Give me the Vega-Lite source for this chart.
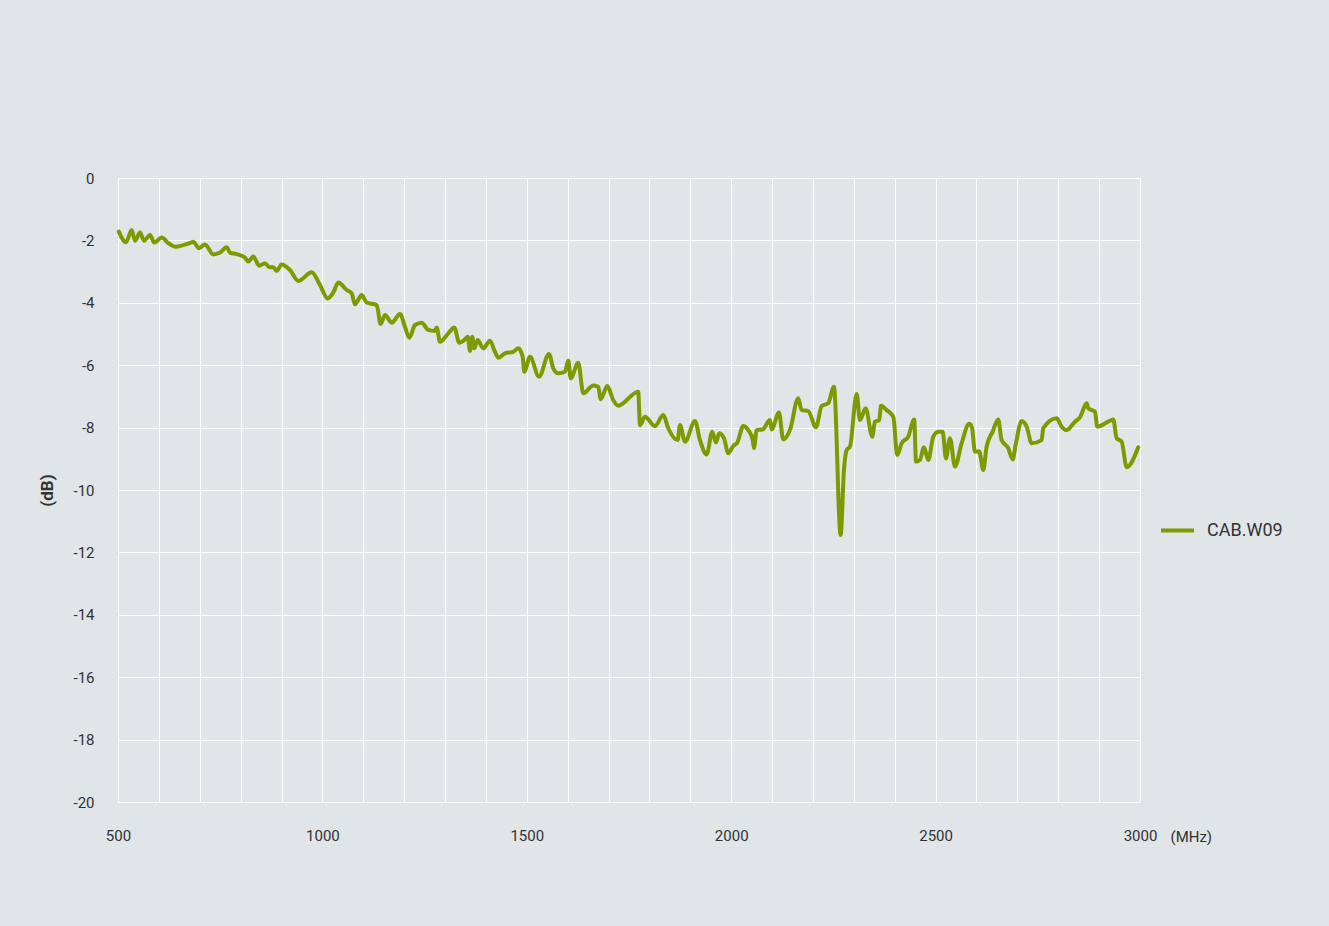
{
  "$schema": "https://vega.github.io/schema/vega-lite/v6.json",
  "autosize": "none",
  "width": 1022,
  "height": 624,
  "padding": {"left": 118, "top": 178, "right": 189, "bottom": 124},
  "background": "#e0e5e8",
  "config": {
    "view": {"stroke": null},
    "font": "Roboto",
    "axis": {"domain": false, "ticks": false, "grid": true, "gridColor": "#ffffff", "gridWidth": 1, "gridOpacity": 1, "labelColor": "#333333", "labelFontSize": 15, "labelFont": "Roboto", "titleColor": "#333333", "labelFlush": false, "labelOverlap": false}
  },
  "data": {
    "values": [
      {"f": 502, "db": -1.72, "series": "CAB.W09"},
      {"f": 519.6, "db": -2.06, "series": "CAB.W09"},
      {"f": 533.5, "db": -1.67, "series": "CAB.W09"},
      {"f": 541.6, "db": -2.01, "series": "CAB.W09"},
      {"f": 553.8, "db": -1.75, "series": "CAB.W09"},
      {"f": 563.6, "db": -2.01, "series": "CAB.W09"},
      {"f": 578.3, "db": -1.83, "series": "CAB.W09"},
      {"f": 588.8, "db": -2.07, "series": "CAB.W09"},
      {"f": 606.9, "db": -1.91, "series": "CAB.W09"},
      {"f": 623, "db": -2.09, "series": "CAB.W09"},
      {"f": 639.4, "db": -2.2, "series": "CAB.W09"},
      {"f": 680.3, "db": -2.06, "series": "CAB.W09"},
      {"f": 684.2, "db": -2.04, "series": "CAB.W09"},
      {"f": 698.1, "db": -2.25, "series": "CAB.W09"},
      {"f": 712.8, "db": -2.13, "series": "CAB.W09"},
      {"f": 733.1, "db": -2.45, "series": "CAB.W09"},
      {"f": 749.5, "db": -2.39, "series": "CAB.W09"},
      {"f": 765.9, "db": -2.22, "series": "CAB.W09"},
      {"f": 774, "db": -2.39, "series": "CAB.W09"},
      {"f": 790.3, "db": -2.44, "series": "CAB.W09"},
      {"f": 810.6, "db": -2.55, "series": "CAB.W09"},
      {"f": 818.7, "db": -2.68, "series": "CAB.W09"},
      {"f": 831, "db": -2.52, "series": "CAB.W09"},
      {"f": 845.6, "db": -2.81, "series": "CAB.W09"},
      {"f": 859.6, "db": -2.73, "series": "CAB.W09"},
      {"f": 870.1, "db": -2.86, "series": "CAB.W09"},
      {"f": 879.9, "db": -2.86, "series": "CAB.W09"},
      {"f": 888.2, "db": -2.98, "series": "CAB.W09"},
      {"f": 900.4, "db": -2.77, "series": "CAB.W09"},
      {"f": 920.7, "db": -2.95, "series": "CAB.W09"},
      {"f": 941, "db": -3.3, "series": "CAB.W09"},
      {"f": 973.8, "db": -3.02, "series": "CAB.W09"},
      {"f": 994.1, "db": -3.43, "series": "CAB.W09"},
      {"f": 1012.9, "db": -3.86, "series": "CAB.W09"},
      {"f": 1026.6, "db": -3.67, "series": "CAB.W09"},
      {"f": 1038.9, "db": -3.35, "series": "CAB.W09"},
      {"f": 1059.4, "db": -3.59, "series": "CAB.W09"},
      {"f": 1071.6, "db": -3.7, "series": "CAB.W09"},
      {"f": 1079.7, "db": -4.05, "series": "CAB.W09"},
      {"f": 1096.1, "db": -3.75, "series": "CAB.W09"},
      {"f": 1108.3, "db": -3.99, "series": "CAB.W09"},
      {"f": 1132.8, "db": -4.07, "series": "CAB.W09"},
      {"f": 1142.6, "db": -4.68, "series": "CAB.W09"},
      {"f": 1153.1, "db": -4.39, "series": "CAB.W09"},
      {"f": 1169.5, "db": -4.64, "series": "CAB.W09"},
      {"f": 1189.8, "db": -4.36, "series": "CAB.W09"},
      {"f": 1202, "db": -4.77, "series": "CAB.W09"},
      {"f": 1212.5, "db": -5.12, "series": "CAB.W09"},
      {"f": 1226.5, "db": -4.71, "series": "CAB.W09"},
      {"f": 1242.9, "db": -4.64, "series": "CAB.W09"},
      {"f": 1259, "db": -4.87, "series": "CAB.W09"},
      {"f": 1275.4, "db": -4.9, "series": "CAB.W09"},
      {"f": 1279.6, "db": -4.79, "series": "CAB.W09"},
      {"f": 1287.6, "db": -5.25, "series": "CAB.W09"},
      {"f": 1307.9, "db": -4.98, "series": "CAB.W09"},
      {"f": 1322.6, "db": -4.79, "series": "CAB.W09"},
      {"f": 1334.8, "db": -5.28, "series": "CAB.W09"},
      {"f": 1351.2, "db": -5.14, "series": "CAB.W09"},
      {"f": 1355.4, "db": -5.09, "series": "CAB.W09"},
      {"f": 1361, "db": -5.54, "series": "CAB.W09"},
      {"f": 1366.6, "db": -5.09, "series": "CAB.W09"},
      {"f": 1371.5, "db": -5.46, "series": "CAB.W09"},
      {"f": 1379.8, "db": -5.19, "series": "CAB.W09"},
      {"f": 1393.5, "db": -5.46, "series": "CAB.W09"},
      {"f": 1409.9, "db": -5.22, "series": "CAB.W09"},
      {"f": 1422.1, "db": -5.57, "series": "CAB.W09"},
      {"f": 1430.2, "db": -5.76, "series": "CAB.W09"},
      {"f": 1446.6, "db": -5.62, "series": "CAB.W09"},
      {"f": 1466.9, "db": -5.57, "series": "CAB.W09"},
      {"f": 1479.1, "db": -5.46, "series": "CAB.W09"},
      {"f": 1489.9, "db": -5.73, "series": "CAB.W09"},
      {"f": 1493.8, "db": -6.21, "series": "CAB.W09"},
      {"f": 1507.8, "db": -5.73, "series": "CAB.W09"},
      {"f": 1529.8, "db": -6.37, "series": "CAB.W09"},
      {"f": 1554.3, "db": -5.64, "series": "CAB.W09"},
      {"f": 1564.8, "db": -6.1, "series": "CAB.W09"},
      {"f": 1577, "db": -6.26, "series": "CAB.W09"},
      {"f": 1593.4, "db": -6.21, "series": "CAB.W09"},
      {"f": 1601.5, "db": -5.85, "series": "CAB.W09"},
      {"f": 1607.3, "db": -6.42, "series": "CAB.W09"},
      {"f": 1625.9, "db": -5.92, "series": "CAB.W09"},
      {"f": 1638.2, "db": -6.9, "series": "CAB.W09"},
      {"f": 1662.6, "db": -6.65, "series": "CAB.W09"},
      {"f": 1674.8, "db": -6.69, "series": "CAB.W09"},
      {"f": 1680.7, "db": -7.09, "series": "CAB.W09"},
      {"f": 1696.8, "db": -6.67, "series": "CAB.W09"},
      {"f": 1711.5, "db": -7.12, "series": "CAB.W09"},
      {"f": 1723.7, "db": -7.3, "series": "CAB.W09"},
      {"f": 1772.6, "db": -6.85, "series": "CAB.W09"},
      {"f": 1776.8, "db": -7.92, "series": "CAB.W09"},
      {"f": 1789, "db": -7.65, "series": "CAB.W09"},
      {"f": 1813.5, "db": -7.95, "series": "CAB.W09"},
      {"f": 1833.8, "db": -7.6, "series": "CAB.W09"},
      {"f": 1846, "db": -8.02, "series": "CAB.W09"},
      {"f": 1869, "db": -8.4, "series": "CAB.W09"},
      {"f": 1874.7, "db": -7.92, "series": "CAB.W09"},
      {"f": 1886.9, "db": -8.45, "series": "CAB.W09"},
      {"f": 1911.4, "db": -7.79, "series": "CAB.W09"},
      {"f": 1923.6, "db": -8.4, "series": "CAB.W09"},
      {"f": 1940, "db": -8.86, "series": "CAB.W09"},
      {"f": 1953.7, "db": -8.13, "series": "CAB.W09"},
      {"f": 1962.7, "db": -8.48, "series": "CAB.W09"},
      {"f": 1970.8, "db": -8.18, "series": "CAB.W09"},
      {"f": 1982.3, "db": -8.34, "series": "CAB.W09"},
      {"f": 1992.8, "db": -8.82, "series": "CAB.W09"},
      {"f": 2005, "db": -8.59, "series": "CAB.W09"},
      {"f": 2014.8, "db": -8.48, "series": "CAB.W09"},
      {"f": 2029.5, "db": -7.95, "series": "CAB.W09"},
      {"f": 2041.7, "db": -8.08, "series": "CAB.W09"},
      {"f": 2052.5, "db": -8.38, "series": "CAB.W09"},
      {"f": 2055.7, "db": -8.66, "series": "CAB.W09"},
      {"f": 2062.2, "db": -8.08, "series": "CAB.W09"},
      {"f": 2076.9, "db": -8.06, "series": "CAB.W09"},
      {"f": 2094.8, "db": -7.76, "series": "CAB.W09"},
      {"f": 2098.9, "db": -8.06, "series": "CAB.W09"},
      {"f": 2116.8, "db": -7.52, "series": "CAB.W09"},
      {"f": 2127.3, "db": -8.38, "series": "CAB.W09"},
      {"f": 2143.7, "db": -8.08, "series": "CAB.W09"},
      {"f": 2164, "db": -7.06, "series": "CAB.W09"},
      {"f": 2172.3, "db": -7.44, "series": "CAB.W09"},
      {"f": 2188.5, "db": -7.47, "series": "CAB.W09"},
      {"f": 2207.3, "db": -7.99, "series": "CAB.W09"},
      {"f": 2221.3, "db": -7.31, "series": "CAB.W09"},
      {"f": 2237.4, "db": -7.22, "series": "CAB.W09"},
      {"f": 2251.3, "db": -6.69, "series": "CAB.W09"},
      {"f": 2267.7, "db": -11.44, "series": "CAB.W09"},
      {"f": 2275.8, "db": -9.36, "series": "CAB.W09"},
      {"f": 2282.4, "db": -8.72, "series": "CAB.W09"},
      {"f": 2290.5, "db": -8.61, "series": "CAB.W09"},
      {"f": 2306.9, "db": -6.92, "series": "CAB.W09"},
      {"f": 2315, "db": -7.76, "series": "CAB.W09"},
      {"f": 2328.9, "db": -7.38, "series": "CAB.W09"},
      {"f": 2345, "db": -8.29, "series": "CAB.W09"},
      {"f": 2351.6, "db": -7.81, "series": "CAB.W09"},
      {"f": 2362.2, "db": -7.76, "series": "CAB.W09"},
      {"f": 2366.3, "db": -7.3, "series": "CAB.W09"},
      {"f": 2380.3, "db": -7.44, "series": "CAB.W09"},
      {"f": 2396.4, "db": -7.65, "series": "CAB.W09"},
      {"f": 2406.2, "db": -8.88, "series": "CAB.W09"},
      {"f": 2417, "db": -8.5, "series": "CAB.W09"},
      {"f": 2433.1, "db": -8.29, "series": "CAB.W09"},
      {"f": 2447.8, "db": -7.74, "series": "CAB.W09"},
      {"f": 2452, "db": -9.09, "series": "CAB.W09"},
      {"f": 2461.7, "db": -9.04, "series": "CAB.W09"},
      {"f": 2471.5, "db": -8.63, "series": "CAB.W09"},
      {"f": 2482, "db": -9.04, "series": "CAB.W09"},
      {"f": 2494.3, "db": -8.29, "series": "CAB.W09"},
      {"f": 2506.5, "db": -8.13, "series": "CAB.W09"},
      {"f": 2517.3, "db": -8.13, "series": "CAB.W09"},
      {"f": 2525.3, "db": -8.99, "series": "CAB.W09"},
      {"f": 2535.1, "db": -8.34, "series": "CAB.W09"},
      {"f": 2547.4, "db": -9.25, "series": "CAB.W09"},
      {"f": 2563.7, "db": -8.5, "series": "CAB.W09"},
      {"f": 2582.3, "db": -7.88, "series": "CAB.W09"},
      {"f": 2589, "db": -8.0, "series": "CAB.W09"},
      {"f": 2596.2, "db": -8.77, "series": "CAB.W09"},
      {"f": 2606.7, "db": -8.77, "series": "CAB.W09"},
      {"f": 2616.5, "db": -9.36, "series": "CAB.W09"},
      {"f": 2624.8, "db": -8.61, "series": "CAB.W09"},
      {"f": 2639.5, "db": -8.13, "series": "CAB.W09"},
      {"f": 2653.2, "db": -7.74, "series": "CAB.W09"},
      {"f": 2661.5, "db": -8.4, "series": "CAB.W09"},
      {"f": 2677.7, "db": -8.66, "series": "CAB.W09"},
      {"f": 2688.4, "db": -9.02, "series": "CAB.W09"},
      {"f": 2696.5, "db": -8.5, "series": "CAB.W09"},
      {"f": 2710.4, "db": -7.79, "series": "CAB.W09"},
      {"f": 2722.7, "db": -7.97, "series": "CAB.W09"},
      {"f": 2734.9, "db": -8.5, "series": "CAB.W09"},
      {"f": 2759.4, "db": -8.4, "series": "CAB.W09"},
      {"f": 2763.3, "db": -8.02, "series": "CAB.W09"},
      {"f": 2796.1, "db": -7.7, "series": "CAB.W09"},
      {"f": 2808.3, "db": -7.97, "series": "CAB.W09"},
      {"f": 2820.6, "db": -8.08, "series": "CAB.W09"},
      {"f": 2840.9, "db": -7.81, "series": "CAB.W09"},
      {"f": 2853.1, "db": -7.67, "series": "CAB.W09"},
      {"f": 2869.5, "db": -7.22, "series": "CAB.W09"},
      {"f": 2873.4, "db": -7.38, "series": "CAB.W09"},
      {"f": 2889.8, "db": -7.49, "series": "CAB.W09"},
      {"f": 2895.4, "db": -7.97, "series": "CAB.W09"},
      {"f": 2922.3, "db": -7.81, "series": "CAB.W09"},
      {"f": 2934.6, "db": -7.74, "series": "CAB.W09"},
      {"f": 2942.9, "db": -8.34, "series": "CAB.W09"},
      {"f": 2955.1, "db": -8.45, "series": "CAB.W09"},
      {"f": 2967.3, "db": -9.27, "series": "CAB.W09"},
      {"f": 2995.7, "db": -8.63, "series": "CAB.W09"}
    ]
  },
  "mark": {"type": "line", "strokeWidth": 4, "interpolate": "monotone", "strokeJoin": "round", "strokeCap": "round"},
  "encoding": {
    "x": {
      "field": "f", "type": "quantitative",
      "scale": {"domain": [500, 3000], "nice": false, "zero": false},
      "axis": {
        "values": [500, 600, 700, 800, 900, 1000, 1100, 1200, 1300, 1400, 1500, 1600, 1700, 1800, 1900, 2000, 2100, 2200, 2300, 2400, 2500, 2600, 2700, 2800, 2900, 3000],
        "format": "d",
        "labelExpr": "datum.value % 500 === 0 ? toString(datum.value) : ''",
        "labelPadding": 26,
        "title": "(MHz)",
        "titleFontWeight": "normal",
        "titleFontSize": 15,
        "titleX": 1052,
        "titleY": 34,
        "titleAlign": "left",
        "titleBaseline": "middle",
        "titleAnchor": null
      }
    },
    "y": {
      "field": "db", "type": "quantitative",
      "scale": {"domain": [-20, 0], "nice": false},
      "axis": {
        "values": [-20, -18, -16, -14, -12, -10, -8, -6, -4, -2, 0],
        "labelExpr": "toString(datum.value)",
        "labelPadding": 24,
        "title": "(dB)",
        "titleFontWeight": "bold",
        "titleFontSize": 17,
        "titlePadding": 16
      }
    },
    "color": {
      "field": "series", "type": "nominal",
      "scale": {"range": ["#7b9b00"]},
      "legend": {
        "title": null,
        "orient": "none",
        "legendX": 1041,
        "legendY": 334,
        "symbolType": "stroke",
        "symbolSize": 1089,
        "symbolStrokeWidth": 4,
        "labelFontSize": 18,
        "labelColor": "#333333",
        "labelFont": "Roboto",
        "labelOffset": 11
      }
    }
  }
}
